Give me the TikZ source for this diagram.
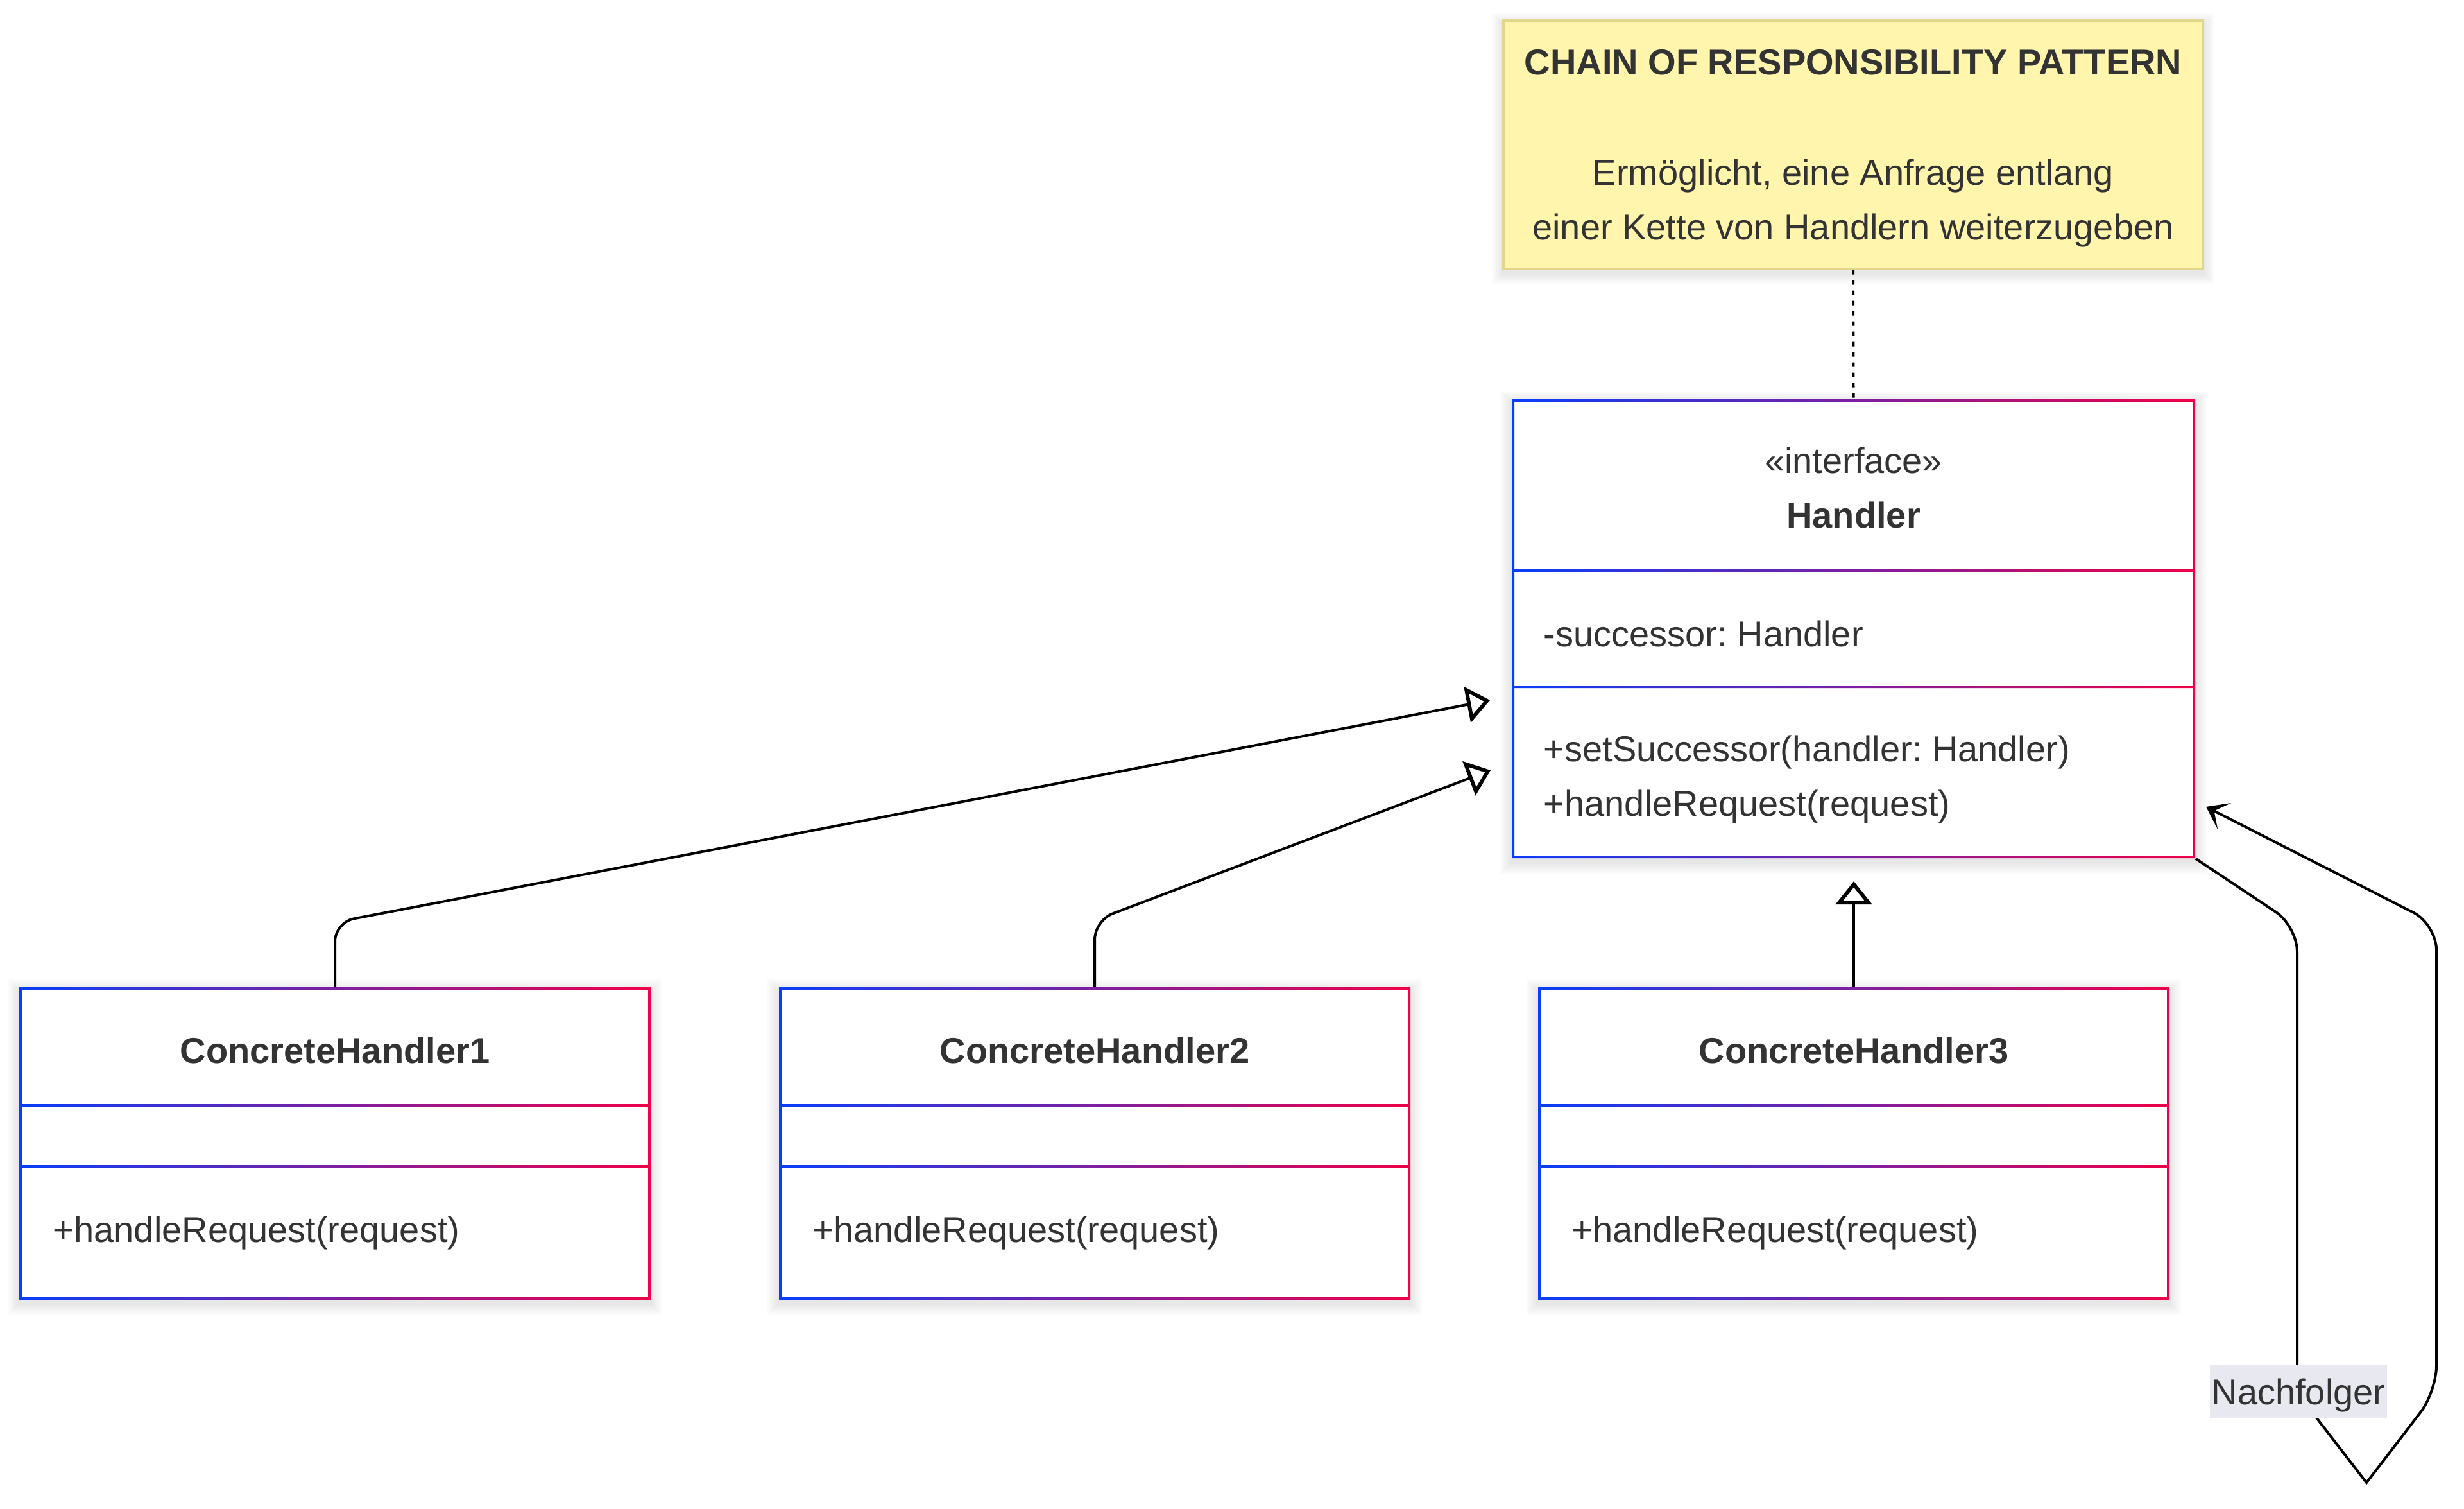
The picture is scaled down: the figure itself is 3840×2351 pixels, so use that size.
\documentclass[tikz,border=0pt]{standalone}
\usepackage{fontspec}
\setmainfont{Liberation Sans}
\usetikzlibrary{arrows.meta}
\definecolor{cblue}{RGB}{8,62,250}
\definecolor{cred}{RGB}{240,0,72}
\definecolor{txt}{HTML}{333333}
\definecolor{notefill}{HTML}{FFF5AD}
\definecolor{notedraw}{HTML}{E2D58C}
\definecolor{lblfill}{HTML}{E8E8F0}
\frenchspacing

\newcommand\softshadow[4]{%
  \foreach \k in {1,...,6}{\fill[black,opacity=0.015] ({#1-3*\k},{#2-3*\k+6}) rectangle ({#3+3*\k},{#4+3*\k+6});}}

\newcommand\classframe[6]{%
  \softshadow{#1}{#2}{#3}{#4}
  \fill[white] (#1,#2) rectangle (#3,#4);
  \shade[even odd rule,left color=cblue,right color=cred] (#1,#2) rectangle (#3,#4)
    ({#1+4},{#2+4}) rectangle ({#3-4},{#5-2})
    ({#1+4},{#5+2}) rectangle ({#3-4},{#6-2})
    ({#1+4},{#6+2}) rectangle ({#3-4},{#4-4});}

\tikzset{
  txtlbl/.style={inner sep=0pt, text height=10pt, text depth=0pt,
    font=\fontsize{14pt}{21pt}\selectfont, text=txt},
  boldlbl/.style={txtlbl, font=\fontsize{14pt}{21pt}\selectfont\bfseries},
  boxnode/.style={inner sep=0pt, draw=none},
  conn/.style={line width=1pt, black},
  inh/.style={conn, -{Triangle[open,length=9pt,width=14pt,line width=1.45pt]}, rounded corners=7.5pt},
  assoc/.style={conn, -{Stealth[length=8pt,width=11.5pt,inset=4.5pt]}, rounded corners=10pt},
}

\begin{document}
\begin{tikzpicture}[x=0.25pt,y=-0.25pt]
\fill[white] (0,0) rectangle (3840,2351);
\useasboundingbox (0,0) rectangle (3840,2351);

% ---------- note ----------
\softshadow{2343}{32}{3433}{419}
\node[boxnode, minimum width=272.5pt, minimum height=96.75pt, fill=notefill, draw=notedraw, line width=0.8pt] (note) at (2888,225.5) {};
\node[boldlbl] (notetitle) at (2888,97) {CHAIN OF RESPONSIBILITY PATTERN};
\node[txtlbl] (notel1) at (2888,269) {Ermöglicht, eine Anfrage entlang};
\node[txtlbl] (notel2) at (2888,354) {einer Kette von Handlern weiterzugeben};

% ---------- Handler ----------
\classframe{2356}{622}{3421}{1337}{889}{1070}
\node[boxnode, minimum width=266.25pt, minimum height=178.75pt] (h) at (2888.5,979.5) {};
\node[txtlbl] (hst) at (2888.5,718) {«interface»};
\node[boldlbl] (hname) at (2888.5,803) {Handler};
\node[txtlbl, anchor=west] (hattr) at (2405,987) {-successor: Handler};
\node[txtlbl, anchor=west] (hm1) at (2405,1166) {+setSuccessor(handler: Handler)};
\node[txtlbl, anchor=west] (hm2) at (2405,1251) {+handleRequest(request)};

% ---------- Concrete handlers ----------
\classframe{30}{1538}{1014}{2025}{1722}{1817}
\node[boxnode, minimum width=246pt, minimum height=121.75pt] (ch1) at (522,1781.5) {};
\node[boldlbl] (ch1n) at (522,1636) {ConcreteHandler1};
\node[txtlbl, anchor=west] (ch1m) at (82,1915) {+handleRequest(request)};

\classframe{1214}{1538}{2198}{2025}{1722}{1817}
\node[boxnode, minimum width=246pt, minimum height=121.75pt] (ch2) at (1706,1781.5) {};
\node[boldlbl] (ch2n) at (1706,1636) {ConcreteHandler2};
\node[txtlbl, anchor=west] (ch2m) at (1266,1915) {+handleRequest(request)};

\classframe{2397}{1538}{3381}{2025}{1722}{1817}
\node[boxnode, minimum width=246pt, minimum height=121.75pt] (ch3) at (2889,1781.5) {};
\node[boldlbl] (ch3n) at (2889,1636) {ConcreteHandler3};
\node[txtlbl, anchor=west] (ch3m) at (2449,1915) {+handleRequest(request)};

% ---------- connectors ----------
\draw[black, line width=1pt, dash pattern=on 1.75pt off 2.25pt] (note.south) -- (h.north);

\coordinate (c1) at (522,1437);
\coordinate (t1) at (2322,1091);
\draw[inh] (ch1.north) -- (c1) -- (t1);

\coordinate (c2) at (1706,1434);
\coordinate (t2) at (2323,1200);
\draw[inh] (ch2.north) -- (c2) -- (t2);

\coordinate (t3) at (2889,1373);
\draw[inh] (ch3.north) -- (t3);

\coordinate (l1) at (3580,1443);
\coordinate (l2) at (3580,2170);
\coordinate (l3) at (3688,2310);
\coordinate (l4) at (3797,2168);
\coordinate (l5) at (3797,1440);
\coordinate (t4) at (3438,1257);
\draw[assoc] (h.south east) -- (l1) -- (l2) [sharp corners] -- (l3) [rounded corners=10pt] -- (l4) -- (l5) -- (t4);

\node[font=\fontsize{14pt}{21pt}\selectfont, text=txt, fill=lblfill, inner xsep=0.6pt, inner ysep=0pt, text height=15.25pt, text depth=5.5pt] (lbl) at (3582,2168.5) {Nachfolger};
\end{tikzpicture}
\end{document}
